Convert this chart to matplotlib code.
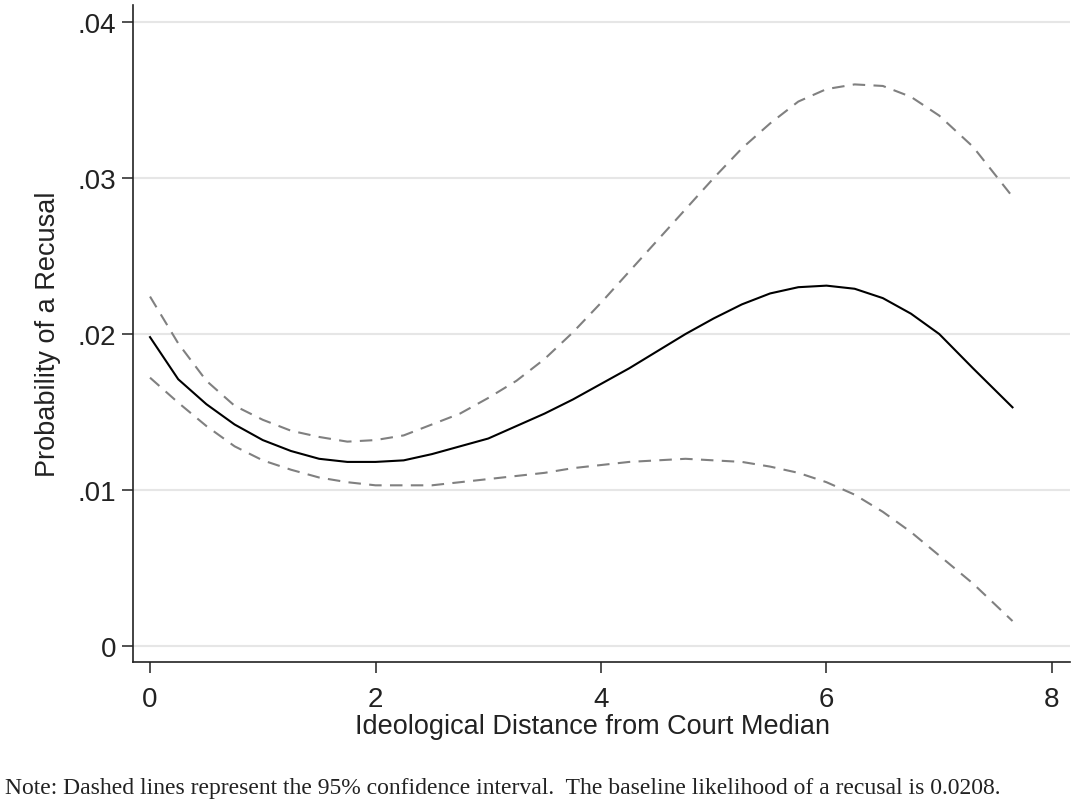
import matplotlib
matplotlib.use("Agg")
import matplotlib.pyplot as plt

# values
distance = [0, 0.25, 0.5, 0.75, 1.0, 1.25, 1.5, 1.75, 2.0, 2.25, 2.5, 2.75,
            3.0, 3.25, 3.5, 3.75, 4.0, 4.25, 4.5, 4.75, 5.0, 5.25, 5.5, 5.75,
            6.0, 6.25, 6.5, 6.75, 7.0, 7.3, 7.65]
prob = [.0198, .0171, .0155, .0142, .0132, .0125, .0120, .0118, .0118, .0119,
        .0123, .0128, .0133, .0141, .0149, .0158, .0168, .0178, .0189, .0200,
        .0210, .0219, .0226, .0230, .0231, .0229, .0223, .0213, .0200, .0178,
        .0153]
upper = [.0224, .0194, .0170, .0154, .0145, .0138, .0134, .0131, .0132, .0135,
         .0142, .0149, .0159, .0170, .0184, .0201, .0220, .0240, .0260, .0280,
         .0300, .0319, .0335, .0349, .0357, .0360, .0359, .0352, .0340, .0320,
         .0288]
lower = [.0172, .0156, .0141, .0128, .0119, .0113, .0108, .0105, .0103, .0103,
         .0103, .0105, .0107, .0109, .0111, .0114, .0116, .0118, .0119, .0120,
         .0119, .0118, .0115, .0111, .0105, .0097, .0086, .0073, .0058, .0040,
         .0016]

x_ticks = [0, 2, 4, 6, 8]
y_ticks = [0, .01, .02, .03, .04]
y_labels = ["0", ".01", ".02", ".03", ".04"]

fig = plt.figure(figsize=(10.75, 8.03), dpi=100)
ax = fig.add_axes([133/1075, 1 - 663/803, 937/1075, 657/803])

ax.plot(distance, upper, color="#808080", lw=1.5, dashes=(6, 4))
ax.plot(distance, lower, color="#808080", lw=1.5, dashes=(6, 4))
ax.plot(distance, prob, color="black", lw=1.5)

ax.set_xlim(-0.151, 8.16)
ax.set_ylim(-0.001026, 0.04109)
ax.set_xticks(x_ticks)
ax.set_yticks(y_ticks)
ax.set_yticklabels(y_labels)
ax.yaxis.grid(True, color="#e6e6e6", lw=1.5)
ax.set_axisbelow(True)

for s in ["top", "right"]:
    ax.spines[s].set_visible(False)
for s in ["left", "bottom"]:
    ax.spines[s].set_linewidth(1.2)
    ax.spines[s].set_color("#222222")

ax.tick_params(length=8, width=1.1, color="#222222", labelsize=20,
               labelcolor="#222222", pad=4)
ax.tick_params(axis="x", pad=9)
for lab in ax.get_xticklabels() + ax.get_yticklabels():
    lab.set_fontfamily("Liberation Sans")

ax.set_xlabel("Ideological Distance from Court Median", fontsize=19.5,
              family="Liberation Sans", color="#222222")
ax.set_ylabel("Probability of a Recusal", fontsize=19.5,
              family="Liberation Sans", color="#222222")
ax.xaxis.set_label_coords(0.49, -0.077)
ax.yaxis.set_label_coords(-0.077, 0.5)

fig.text(0.005, 1 - 789/803,
         "Note: Dashed lines represent the 95% confidence interval.  "
         "The baseline likelihood of a recusal is 0.0208.",
         family="Liberation Serif", fontsize=17, color="#222222", va="center")

fig.savefig("out.png", dpi=100)
